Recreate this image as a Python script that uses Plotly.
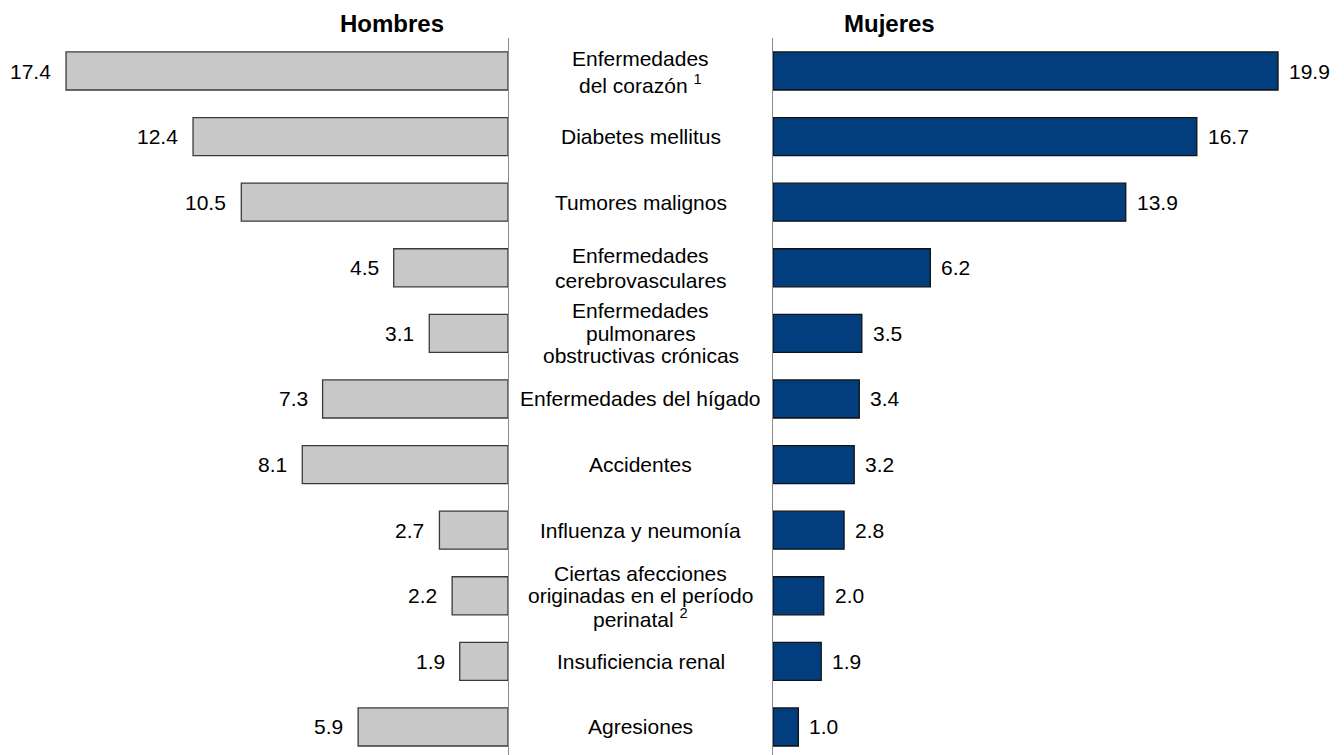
import plotly.graph_objects as go

categories = ["Enfermedades del corazón", "Diabetes mellitus", "Tumores malignos",
              "Enfermedades cerebrovasculares", "Enfermedades pulmonares obstructivas crónicas",
              "Enfermedades del hígado", "Accidentes", "Influenza y neumonía",
              "Ciertas afecciones originadas en el período perinatal", "Insuficiencia renal",
              "Agresiones"]
labels = ["Enfermedades<br>del corazón <sup>1</sup>", "Diabetes mellitus", "Tumores malignos",
          "Enfermedades<br>cerebrovasculares", "Enfermedades<br>pulmonares<br>obstructivas crónicas",
          "Enfermedades del hígado", "Accidentes", "Influenza y neumonía",
          "Ciertas afecciones<br>originadas en el período<br>perinatal <sup>2</sup>",
          "Insuficiencia renal", "Agresiones"]
hombres = [17.4, 12.4, 10.5, 4.5, 3.1, 7.3, 8.1, 2.7, 2.2, 1.9, 5.9]
mujeres = [19.9, 16.7, 13.9, 6.2, 3.5, 3.4, 3.2, 2.8, 2.0, 1.9, 1.0]
panel_titles = ["Hombres", "Mujeres"]

W, H = 1344, 755
FONT = "Liberation Sans, Arial, sans-serif"

fig = go.Figure()
fig.add_trace(go.Bar(x=hombres, y=categories, orientation="h", xaxis="x", yaxis="y",
                     marker=dict(color="#c8c8c8", line=dict(color="#3a3a3a", width=1.3)),
                     width=0.58, hoverinfo="x+y", showlegend=False))
fig.add_trace(go.Bar(x=mujeres, y=categories, orientation="h", xaxis="x2", yaxis="y2",
                     marker=dict(color="#023e7d", line=dict(color="#111111", width=1.3)),
                     width=0.58, hoverinfo="x+y", showlegend=False))

annotations = []
for c, v in zip(categories, hombres):
    annotations.append(dict(x=v, y=c, xref="x", yref="y", text=f"{v:.1f}", showarrow=False,
                            xanchor="right", yanchor="middle", xshift=-13,
                            font=dict(size=21, color="#000000", family=FONT)))
for c, v in zip(categories, mujeres):
    annotations.append(dict(x=v, y=c, xref="x2", yref="y2", text=f"{v:.1f}", showarrow=False,
                            xanchor="left", yanchor="middle", xshift=9,
                            font=dict(size=21, color="#000000", family=FONT)))
for c, lab in zip(categories, labels):
    lines = lab.split("<br>")
    n = len(lines)
    spacing = 25 if n == 2 else 22.5
    for i, ln in enumerate(lines):
        annotations.append(dict(x=640.5 / W, y=c, xref="paper", yref="y", text=ln, showarrow=False,
                                xanchor="center", yanchor="middle", align="center",
                                yshift=((n - 1) / 2 - i) * spacing,
                                font=dict(size=21, color="#000000", family=FONT)))
for t, xp in zip(panel_titles, [392, 889]):
    annotations.append(dict(x=xp / W, y=(H - 23) / (H - 38), xref="paper", yref="paper",
                            text=f"<b>{t}</b>", showarrow=False, xanchor="center", yanchor="middle",
                            font=dict(size=24, color="#000000", family=FONT)))

yrange = [10.427, -0.503]
fig.update_layout(
    width=W, height=H,
    margin=dict(l=0, r=0, t=38, b=0),
    paper_bgcolor="white", plot_bgcolor="white",
    font=dict(family=FONT, color="#000000"),
    bargap=0.4,
    xaxis=dict(domain=[0, 508 / W], range=[20, 0], showgrid=False, zeroline=False,
               showticklabels=False, showline=False, ticks="", fixedrange=True),
    xaxis2=dict(domain=[773 / W, 1], range=[0, 22.5], showgrid=False, zeroline=False,
                showticklabels=False, showline=False, ticks="", fixedrange=True),
    yaxis=dict(anchor="x", side="right", type="category", categoryarray=categories,
               categoryorder="array", range=yrange, showgrid=False, zeroline=False,
               showticklabels=False, ticks="", showline=True, linecolor="#8c8c8c", linewidth=1.3),
    yaxis2=dict(anchor="x2", side="left", type="category", categoryarray=categories,
                categoryorder="array", range=yrange, showgrid=False, zeroline=False,
                showticklabels=False, ticks="", showline=True, linecolor="#8c8c8c", linewidth=1.3),
    annotations=annotations,
)

fig.write_html("out.html", config={"displayModeBar": False},
               post_script="document.body.style.margin='0';document.body.style.overflow='hidden';")
